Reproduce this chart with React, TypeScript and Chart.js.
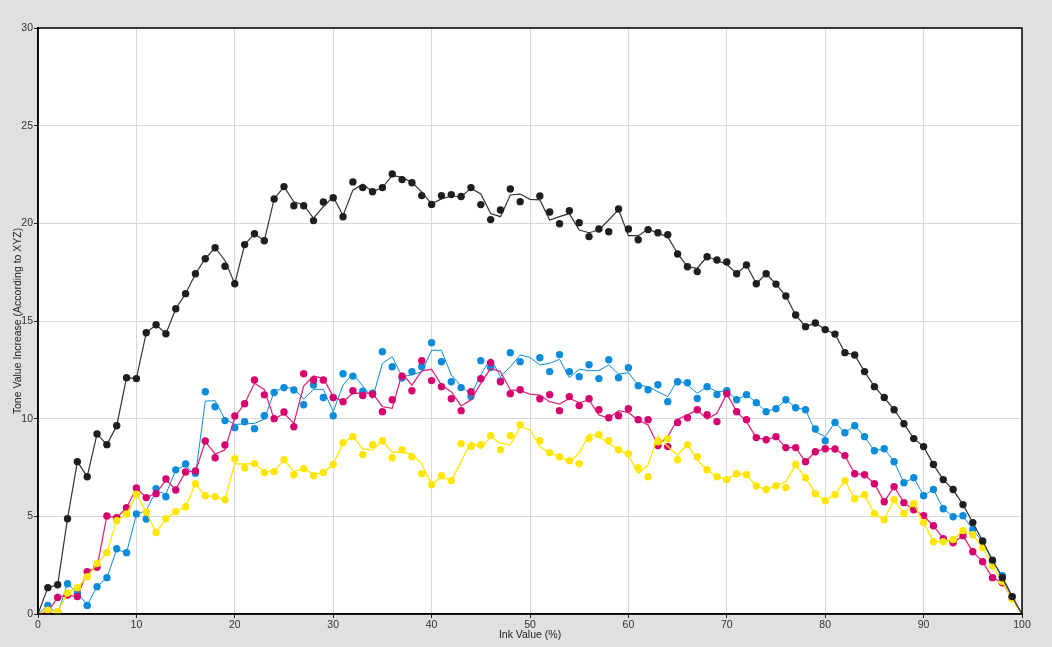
import React, { useEffect, useRef } from "react";
import { Chart, registerables } from "chart.js";

Chart.register(...registerables);

// Ink values 0..100 (%)
const inkValues: number[] = Array.from({ length: 101 }, (_, i) => i);

const xTicks = [0, 10, 20, 30, 40, 50, 60, 70, 80, 90, 100];
const yTicks = [0, 5, 10, 15, 20, 25, 30];

// Measured dots (null = no measurement)
const blackDots: (number | null)[] = [
  null, 1.35, 1.5, 4.88, 7.8, 7.03, 9.22, 8.67, 9.64, 12.1,
  12.05, 14.4, 14.81, 14.35, 15.63, 16.4, 17.42, 18.19, 18.75, 17.8,
  16.91, 18.91, 19.47, 19.11, 21.25, 21.88, 20.9, 20.9, 20.14, 21.09,
  21.31, 20.34, 22.12, 21.83, 21.62, 21.83, 22.53, 22.24, 22.08, 21.42,
  20.97, 21.42, 21.47, 21.37, 21.83, 20.96, 20.19, 20.68, 21.76, 21.11,
  null, 21.4, 20.58, 19.98, 20.65, 20.03, 19.32, 19.71, 19.57, 20.73,
  19.71, 19.16, 19.68, 19.52, 19.42, 18.43, 17.78, 17.53, 18.29, 18.12,
  18.02, 17.42, 17.87, 16.91, 17.42, 16.89, 16.28, 15.31, 14.71, 14.9,
  14.56, 14.33, 13.38, 13.26, 12.41, 11.64, 11.08, 10.46, 9.74, 8.98,
  8.57, 7.65, 6.88, 6.37, 5.6, 4.68, 3.74, 2.76, 1.86, 0.89,
  null,
];
const blackLine: number[] = [
  0, 1.35, 1.5, 4.88, 7.8, 7.03, 9.22, 8.67, 9.64, 12.1,
  12.05, 14.4, 14.81, 14.35, 15.63, 16.4, 17.42, 18.19, 18.75, 18.1,
  16.91, 18.91, 19.47, 19.11, 21.25, 21.88, 21.1, 20.94, 20.26, 20.85,
  21.36, 20.4, 21.7, 22.0, 21.62, 21.83, 22.45, 22.35, 22.1, 21.6,
  21.0, 21.25, 21.4, 21.35, 21.8, 21.5, 20.5, 20.34, 21.45, 21.5,
  21.23, 21.2, 20.17, 20.34, 20.5, 19.66, 19.52, 19.66, 20.17, 20.7,
  19.37, 19.37, 19.7, 19.5, 19.3, 18.45, 17.78, 17.7, 18.3, 18.1,
  17.9, 17.42, 17.87, 16.91, 17.42, 16.89, 16.28, 15.31, 14.71, 14.9,
  14.56, 14.33, 13.38, 13.26, 12.41, 11.64, 11.08, 10.46, 9.74, 8.98,
  8.57, 7.65, 6.88, 6.37, 5.6, 4.68, 3.74, 2.76, 1.86, 0.89,
  0,
];

const cyanDots: (number | null)[] = [
  null, 0.44, 0.1, 1.55, 1.06, 0.44, 1.4, 1.86, 3.34, 3.14,
  5.12, 4.86, 6.42, 6.0, 7.38, 7.68, 7.2, 11.38, 10.61, 9.9,
  9.54, 9.84, 9.49, 10.15, 11.34, 11.59, 11.47, 10.71, 11.72, 11.08,
  10.15, 12.3, 12.18, 11.4, 11.3, 13.43, 12.66, 12.08, 12.41, 12.66,
  13.89, 12.91, 11.89, 11.59, 11.13, 12.97, 12.62, 11.93, 13.38, 12.92,
  null, 13.12, 12.41, 13.28, 12.41, 12.15, 12.76, 12.05, 13.02, 12.1,
  12.61, 11.69, 11.48, 11.74, 10.87, 11.89, 11.84, 11.03, 11.64, 11.24,
  11.43, 10.97, 11.23, 10.82, 10.36, 10.51, 10.97, 10.56, 10.46, 9.47,
  8.87, 9.81, 9.28, 9.64, 9.08, 8.36, 8.46, 7.8, 6.72, 6.98,
  6.06, 6.37, 5.39, 4.98, 5.03, 4.32, 3.7, 2.7, 1.96, 0.89,
  null,
];
const cyanLine: number[] = [
  0, 0.43, 0.0, 1.55, 1.1, 0.45, 1.4, 1.86, 3.3, 3.14,
  5.1, 5.3, 6.3, 6.14, 7.37, 7.63, 7.08, 10.9, 10.92, 9.97,
  9.71, 9.73, 9.76, 9.97, 11.38, 11.6, 11.55, 11.0, 11.5, 11.5,
  10.36, 11.72, 12.32, 11.67, 11.04, 12.83, 13.17, 12.15, 12.24, 12.4,
  13.5, 13.5, 12.24, 11.67, 11.21, 12.24, 13.09, 12.15, 12.66, 13.26,
  13.14, 12.75, 12.83, 13.04, 12.1, 12.53, 12.46, 12.46, 12.75, 12.29,
  12.35, 11.72, 11.64, 11.38, 11.13, 11.98, 11.72, 11.3, 11.64, 11.38,
  11.43, 10.97, 11.23, 10.82, 10.36, 10.51, 10.97, 10.56, 10.46, 9.33,
  9.08, 9.81, 9.28, 9.64, 9.08, 8.36, 8.46, 7.8, 6.72, 6.98,
  6.06, 6.37, 5.39, 4.98, 5.03, 4.32, 3.7, 2.7, 1.96, 0.89,
  0,
];

const magentaDots: (number | null)[] = [
  null, 0.12, 0.85, 0.97, 0.89, 2.17, 2.39, 5.02, 4.93, 5.44,
  6.45, 5.96, 6.16, 6.91, 6.35, 7.27, 7.32, 8.86, 8.0, 8.65,
  10.14, 10.77, 11.98, 11.22, 10.0, 10.34, 9.59, 12.3, 11.98, 11.98,
  11.08, 10.87, 11.43, 11.18, 11.25, 10.36, 10.97, 12.18, 11.43, 12.97,
  11.95, 11.64, 11.02, 10.41, 11.38, 12.04, 12.87, 11.89, 11.28, 11.48,
  null, 11.02, 11.23, 10.41, 11.13, 10.67, 11.02, 10.46, 10.05, 10.15,
  10.51, 9.95, 9.95, 8.62, 8.57, 9.8, 10.05, 10.46, 10.2, 9.85,
  11.28, 10.36, 9.95, 9.03, 8.92, 9.08, 8.52, 8.52, 7.8, 8.31,
  8.46, 8.45, 8.11, 7.18, 7.13, 6.67, 5.75, 6.52, 5.7, 5.34,
  5.03, 4.52, 3.86, 3.65, 4.01, 3.19, 2.68, 1.86, 1.6, 0.8,
  null,
];
const magentaLine: number[] = [
  0, 0.12, 0.85, 0.97, 0.89, 2.17, 2.39, 5.02, 4.93, 5.44,
  6.45, 5.96, 6.18, 6.86, 6.38, 7.29, 7.29, 8.82, 8.19, 8.4,
  10.07, 10.78, 11.81, 11.5, 9.97, 10.27, 9.76, 11.67, 12.18, 12.06,
  11.13, 10.87, 11.3, 11.3, 11.3, 10.61, 10.53, 12.32, 11.72, 12.45,
  12.53, 11.72, 11.38, 10.65, 10.96, 11.81, 12.58, 12.41, 11.47, 11.43,
  11.26, 11.21, 10.87, 10.75, 11.04, 10.82, 10.96, 10.19, 10.02, 10.41,
  10.31, 9.93, 9.68, 8.65, 9.08, 9.97, 10.19, 10.44, 9.97, 10.27,
  11.28, 10.36, 9.85, 9.03, 8.92, 9.08, 8.52, 8.52, 7.8, 8.31,
  8.46, 8.45, 8.11, 7.18, 7.13, 6.67, 5.75, 6.52, 5.7, 5.34,
  5.03, 4.52, 3.86, 3.65, 4.01, 3.19, 2.68, 1.86, 1.6, 0.8,
  0,
];

const yellowDots: (number | null)[] = [
  null, 0.2, 0.12, 1.07, 1.35, 1.91, 2.58, 3.14, 4.78, 5.12,
  6.13, 5.22, 4.17, 4.88, 5.24, 5.49, 6.67, 6.06, 6.01, 5.85,
  7.95, 7.49, 7.7, 7.24, 7.29, 7.9, 7.13, 7.44, 7.08, 7.24,
  7.65, 8.77, 9.08, 8.16, 8.67, 8.87, 8.0, 8.41, 8.05, 7.18,
  6.62, 7.08, 6.83, 8.72, 8.57, 8.67, 9.13, 8.41, 9.13, 9.69,
  null, 8.87, 8.26, 8.05, 7.85, 7.7, 8.98, 9.18, 8.87, 8.41,
  8.21, 7.49, 7.03, 8.82, 8.98, 7.9, 8.67, 8.05, 7.39, 7.03,
  6.88, 7.18, 7.13, 6.55, 6.37, 6.57, 6.47, 7.65, 6.98, 6.16,
  5.8, 6.11, 6.83, 5.9, 6.11, 5.14, 4.83, 5.85, 5.14, 5.65,
  4.68, 3.7, 3.7, 3.81, 4.27, 4.06, 3.4, 2.47, 1.66, 0.77,
  null,
];
const yellowLine: number[] = [
  0, 0.2, 0.12, 1.07, 1.35, 1.91, 2.58, 3.14, 4.78, 5.12,
  6.13, 5.22, 4.17, 4.88, 5.24, 5.49, 6.67, 6.06, 6.01, 5.85,
  7.7, 7.68, 7.7, 7.3, 7.29, 7.9, 7.29, 7.44, 7.15, 7.24,
  7.65, 8.77, 9.08, 8.45, 8.4, 8.87, 8.28, 8.28, 8.19, 7.7,
  6.62, 7.03, 6.83, 7.8, 8.82, 8.48, 9.08, 8.74, 8.65, 9.59,
  9.42, 8.57, 8.23, 8.05, 7.8, 8.23, 9.22, 9.08, 8.74, 8.43,
  8.14, 7.2, 7.63, 9.11, 8.57, 8.14, 8.67, 7.88, 7.37, 7.03,
  6.88, 7.18, 7.13, 6.55, 6.37, 6.57, 6.77, 7.65, 6.98, 6.16,
  5.8, 6.11, 6.83, 5.9, 6.11, 5.14, 4.83, 5.85, 5.14, 5.65,
  4.68, 3.7, 3.7, 3.81, 4.27, 4.06, 3.4, 2.47, 1.66, 0.77,
  0,
];

const FONT = "'Liberation Sans', Arial, sans-serif";

const toXY = (vals: (number | null)[]) =>
  inkValues.map((x, i) => ({ x, y: vals[i] }));

const frame = {
  id: "frame",
  beforeDraw(chart: any) {
    const { ctx, chartArea } = chart;
    ctx.save();
    ctx.fillStyle = "#ffffff";
    ctx.fillRect(chartArea.left, chartArea.top, chartArea.right - chartArea.left, chartArea.bottom - chartArea.top);
    ctx.restore();
  },
  afterDraw(chart: any) {
    const { ctx, chartArea } = chart;
    ctx.save();
    ctx.strokeStyle = "#000000";
    ctx.lineWidth = 1.5;
    ctx.strokeRect(chartArea.left, chartArea.top, chartArea.right - chartArea.left, chartArea.bottom - chartArea.top);
    ctx.restore();
  },
};

export default function App() {
  const ref = useRef<HTMLCanvasElement | null>(null);

  useEffect(() => {
    if (!ref.current) return;
    const dotSet = (label: string, vals: (number | null)[], color: string, order: number) => ({
      label,
      data: toXY(vals),
      showLine: false,
      pointRadius: 3.7,
      pointBorderWidth: 0,
      pointBackgroundColor: color,
      pointBorderColor: color,
      backgroundColor: color,
      borderColor: color,
      order,
    });
    const lineSet = (label: string, vals: number[], color: string, width: number, order: number) => ({
      label,
      data: toXY(vals),
      showLine: true,
      pointRadius: 0,
      borderWidth: width,
      borderColor: color,
      backgroundColor: color,
      tension: 0,
      fill: false,
      order,
    });

    const chart = new Chart(ref.current, {
      type: "line",
      data: {
        datasets: [
          dotSet("K", blackDots, "#1e1e1e", 0),
          lineSet("K line", blackLine, "#333333", 1.2, 1),
          dotSet("Y", yellowDots, "#ffe600", 2),
          lineSet("Y line", yellowLine, "#ffe600", 1.3, 3),
          dotSet("M", magentaDots, "#d6006f", 4),
          lineSet("M line", magentaLine, "#dc2a7c", 1.3, 5),
          dotSet("C", cyanDots, "#0a8cdb", 6),
          lineSet("C line", cyanLine, "#0a8cdb", 1.0, 7),
        ] as any,
      },
      options: {
        animation: false,
        responsive: false,
        devicePixelRatio: 1,
        layout: { padding: { top: 28, right: 30, left: 0, bottom: 0 } },
        plugins: {
          legend: { display: false },
          tooltip: { enabled: false },
        },
        scales: {
          x: {
            type: "linear",
            min: 0,
            max: 100,
            afterFit: (s: any) => {
              s.height = 33;
            },
            afterBuildTicks: (s: any) => {
              s.ticks = xTicks.map((v) => ({ value: v }));
            },
            ticks: {
              color: "#333333",
              font: { family: FONT, size: 10.5 },
              padding: 1,
              maxRotation: 0,
              autoSkip: false,
            },
            grid: { color: "#d9d9d9", lineWidth: 1, tickColor: "#222222", tickLength: 4 },
            border: { color: "#000000", width: 1.5 },
            title: {
              display: true,
              text: "Ink Value (%)",
              color: "#222222",
              font: { family: FONT, size: 10.5 },
              padding: { top: 0, bottom: 6 },
            },
          },
          y: {
            type: "linear",
            min: 0,
            max: 30,
            afterFit: (s: any) => {
              s.width = 38;
            },
            afterBuildTicks: (s: any) => {
              s.ticks = yTicks.map((v) => ({ value: v }));
            },
            ticks: {
              color: "#333333",
              font: { family: FONT, size: 10.5 },
              padding: 1,
              autoSkip: false,
            },
            grid: { color: "#d9d9d9", lineWidth: 1, tickColor: "#222222", tickLength: 4 },
            border: { color: "#000000", width: 1.5 },
            title: {
              display: true,
              text: "Tone Value Increase (According to XYZ)",
              color: "#222222",
              font: { family: FONT, size: 10.5 },
              padding: { top: 12, bottom: 0 },
            },
          },
        },
      },
      plugins: [frame],
    });
    return () => chart.destroy();
  }, []);

  return (
    <div
      style={{
        position: "fixed",
        left: 0,
        top: 0,
        width: 1052,
        height: 647,
        background: "#e0e0e0",
      }}
    >
      <canvas ref={ref} width={1052} height={647} style={{ display: "block" }} />
    </div>
  );
}
